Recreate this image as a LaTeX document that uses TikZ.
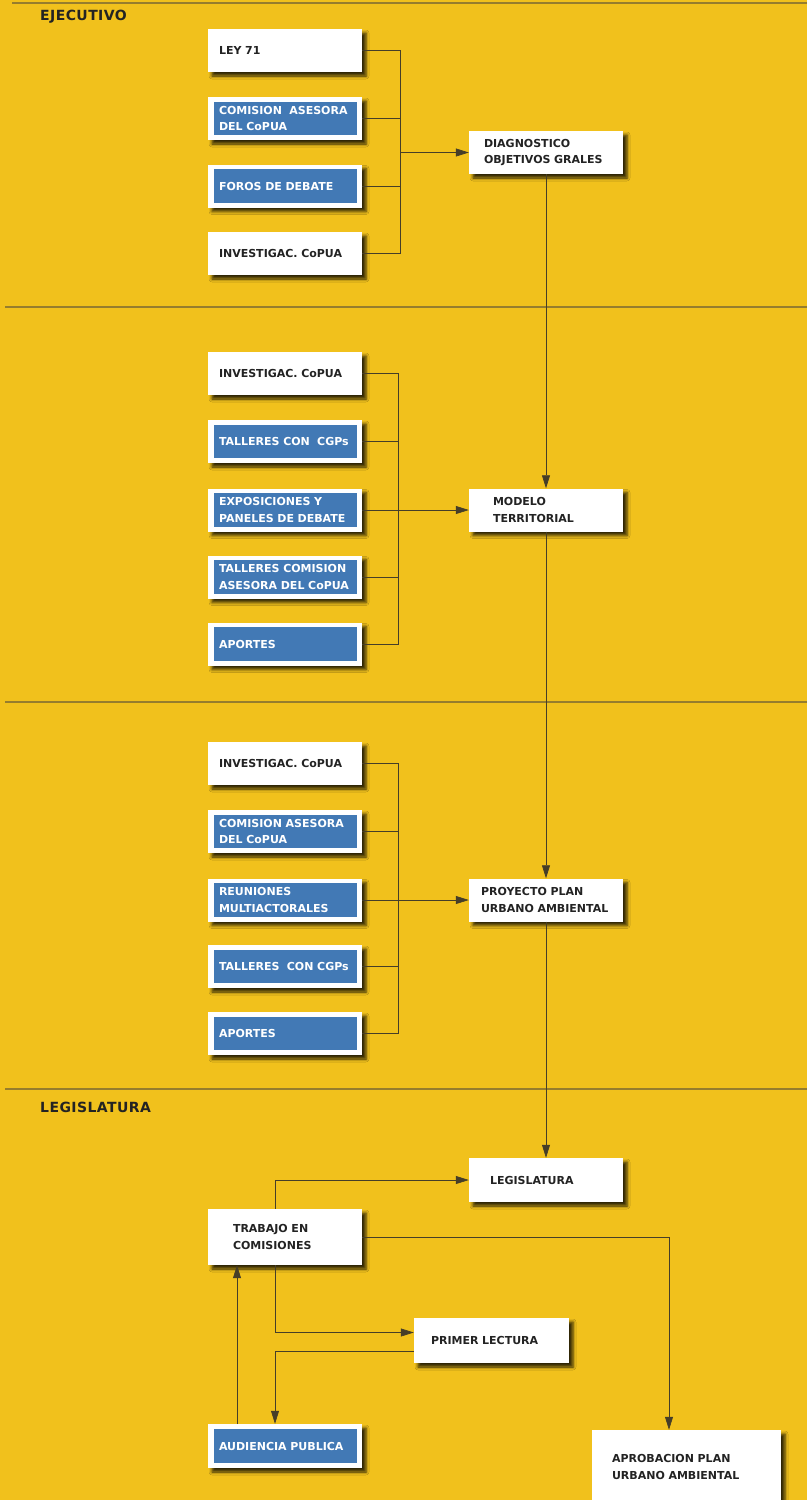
\documentclass[tikz,border=0pt]{standalone}
\usepackage{fontspec}
\setmainfont{DejaVu Sans}
\definecolor{bgyellow}{RGB}{241,193,28}
\definecolor{boxblue}{RGB}{66,121,181}
\definecolor{textdark}{RGB}{35,35,35}
\definecolor{linecol}{RGB}{70,62,40}
\definecolor{sepcol}{RGB}{150,125,45}
\usetikzlibrary{arrows.meta, shadows.blur}
\newcommand{\boxfont}{\bfseries\fontsize{11}{16.5}\selectfont}
\newcommand{\headfont}{\bfseries\fontsize{14}{16}\selectfont\addfontfeatures{LetterSpace=3}}

\begin{document}
\begin{tikzpicture}[x=1pt, y=-1pt,
  box/.style={rectangle, fill=white, text=textdark, font=\boxfont, align=left,
    text width=132pt, inner xsep=11pt, inner ysep=0pt, minimum height=43pt,
    blur shadow={shadow xshift=4pt, shadow yshift=-4pt, shadow blur radius=3pt, shadow opacity=80}},
  bluebox/.style={box, text=white,
    path picture={\fill[boxblue] ([shift={(6pt,-4.5pt)}]path picture bounding box.north west)
      rectangle ([shift={(-5.5pt,5pt)}]path picture bounding box.south east);}},
  conn/.style={draw=linecol, line width=0.7pt},
  arrow/.style={conn, -{Triangle[length=13pt, width=8pt]}},
  sepline/.style={draw=sepcol, line width=1.5pt},
  heading/.style={font=\headfont, text=textdark, anchor=west, inner sep=0pt}]

  % background and section lines
  \fill[bgyellow] (0,0) rectangle (807,1500);
  \useasboundingbox (0,0) rectangle (807,1500);
  \draw[sepline] (12,3) -- (807,3);
  \draw[sepline] (5,307) -- (807,307);
  \draw[sepline] (5,702) -- (807,702);
  \draw[sepline] (5,1089) -- (807,1089);

  % Ejecutivo: first stage
  \node[heading] (ejec) at (40,17) {EJECUTIVO};
  \node[box] (ley) at (285,50.5) {LEY 71};
  \node[bluebox] (comA) at (285,118.5) {COMISION\ \ ASESORA\\DEL CoPUA};
  \node[bluebox] (foros) at (285,186) {FOROS DE DEBATE};
  \node[box] (invA) at (285,253.5) {INVESTIGAC. CoPUA};
  \node[box, text width=124pt, inner xsep=15pt] (diag) at (546,152.5) {DIAGNOSTICO\\OBJETIVOS GRALES};

  \coordinate (busA) at (400,0);
  \draw[conn] (ley.east) -| (busA |- invA.east) -- (invA.east);
  \draw[conn] (comA.east) -- (comA.east -| busA) (foros.east) -- (foros.east -| busA);
  \draw[arrow] (busA |- diag.west) -- (diag.west);

  % second stage
  \node[box] (invB) at (285,373.5) {INVESTIGAC. CoPUA};
  \node[bluebox] (tallB) at (285,441.5) {TALLERES CON\ \ CGPs};
  \node[bluebox] (expo) at (285,510) {EXPOSICIONES Y\\PANELES DE DEBATE};
  \node[bluebox] (talcB) at (285,577) {TALLERES COMISION\\ASESORA DEL CoPUA};
  \node[bluebox] (aporB) at (285,644) {APORTES};
  \node[box, text width=106pt, inner xsep=24pt] (modelo) at (546,510) {MODELO\\TERRITORIAL};

  \coordinate (busB) at (398,0);
  \draw[conn] (invB.east) -| (busB |- aporB.east) -- (aporB.east);
  \draw[conn] (tallB.east) -- (tallB.east -| busB) (talcB.east) -- (talcB.east -| busB);
  \draw[arrow] (expo.east) -- (modelo.west);

  % third stage
  \node[box] (invC) at (285,763.5) {INVESTIGAC. CoPUA};
  \node[bluebox] (comC) at (285,831.5) {COMISION ASESORA\\DEL CoPUA};
  \node[bluebox] (reun) at (285,900) {REUNIONES\\MULTIACTORALES};
  \node[bluebox] (tallC) at (285,966.5) {TALLERES\ \ CON CGPs};
  \node[bluebox] (aporC) at (285,1033.5) {APORTES};
  \node[box, text width=130pt, inner xsep=12pt] (proy) at (546,900) {PROYECTO PLAN\\URBANO AMBIENTAL};

  \coordinate (busC) at (398,0);
  \draw[conn] (invC.east) -| (busC |- aporC.east) -- (aporC.east);
  \draw[conn] (comC.east) -- (comC.east -| busC) (tallC.east) -- (tallC.east -| busC);
  \draw[arrow] (reun.east) -- (proy.west);

  % Legislatura
  \node[heading] (legh) at (40,1107) {LEGISLATURA};
  \node[box, text width=112pt, inner xsep=21pt, minimum height=44pt] (legis) at (546,1180) {LEGISLATURA};
  \node[box, text width=104pt, inner xsep=25pt, minimum height=56pt] (trab) at (285,1237) {TRABAJO EN\\COMISIONES};
  \node[box, text width=121pt, inner xsep=17pt, minimum height=45pt] (primer) at (491.5,1340.5) {PRIMER LECTURA};
  \node[bluebox, minimum height=44pt] (aud) at (285,1446) {AUDIENCIA PUBLICA};
  \node[box, text width=149pt, inner xsep=20pt, minimum height=74pt] (aprob) at (686.5,1467) {APROBACION PLAN\\URBANO AMBIENTAL};

  % main sequence
  \draw[arrow] (diag.south) -- (modelo.north);
  \draw[arrow] (modelo.south) -- (proy.north);
  \draw[arrow] (proy.south) -- (legis.north);

  % loops of the legislature
  \coordinate (colA) at (275,0);
  \coordinate (colC) at (669,0);
  \coordinate (colD) at (237,0);
  \draw[arrow] (trab.north -| colA) |- (legis.west);
  \draw[arrow] (trab.east) -| (colC |- aprob.north);
  \draw[arrow] (trab.south -| colA) |- ([yshift=8pt]primer.west);
  \draw[arrow] ([yshift=-11pt]primer.west) -| (colA |- aud.north);
  \draw[arrow] (aud.north -| colD) -- (trab.south -| colD);
\end{tikzpicture}
\end{document}
